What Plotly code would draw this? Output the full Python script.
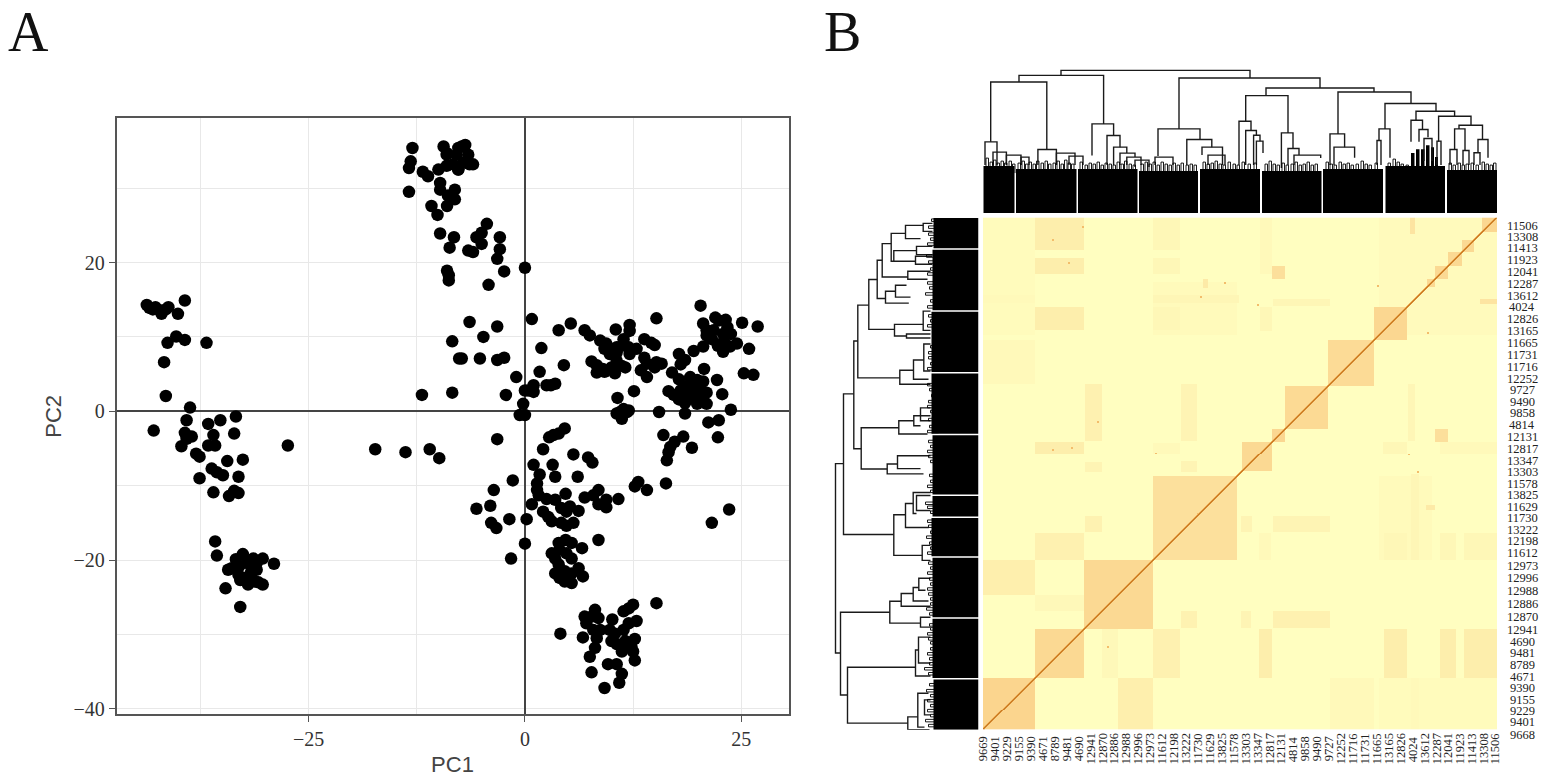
import numpy as np
import plotly.graph_objects as go

W, H = 1549, 782

# panel A, points
pc1 = [
    -43.7, -43.4, -43.0, -42.7, -42.2, -42.0, -41.5, -41.2, -39.3, -40.1, -41.3, -40.3, -39.3, -36.8, -41.7, -41.5, -38.7,
    -42.9, -39.1, -39.3, -38.5, -39.7, -39.1, -36.6, -35.2, -33.4, -36.0, -33.6, -36.6, -35.8, -38.0, -37.6, -34.4, -32.6,
    -36.2, -35.6, -34.9, -37.6, -33.1, -36.0, -34.2, -33.6, -33.1, -27.4, -17.3, -13.8, -11.0, -9.9,
    -35.8, -35.6, -32.6, -33.4, -31.4, -30.3, -29.0, -34.3, -33.9, -33.0, -32.1, -31.0, -31.6, -31.0, -33.1, -32.6, -31.8,
    -32.0, -32.9, -31.2, -30.3, -30.8, -34.6, -32.9,
    -13.0, -13.2, -13.4, -13.4, -11.8, -11.2, -10.0, -9.4, -9.05, -9.05, -8.3, -7.7, -7.7, -9.8, -9.8, -8.1, -8.9, -8.1,
    -9.0, -10.8, -10.1, -9.8, -8.2, -8.7, -9.0, -8.8, -8.8, -8.4, -7.6, -11.9, -8.4,
    -7.3, -6.9, -7.9, -6.55, -6.4, -6.0, -9.0, -7.7, -7.1,
    -4.4, -5.0, -5.6, -5.0, -2.9, -2.9, -3.2, -6.55, -6.0, -2.4, -4.2, 0.0, -6.4, -3.2, -4.8, -7.3, -5.2, -3.2, -2.4, -1.0,
    -2.2, 0.8, 1.9, 4.5, 1.7, 3.9, 5.3, 0.4, 1.0, 0.0, 1.0, -0.2, -0.6, 0.0, 2.5, 3.5, 3.0,
    6.9, 7.5, 10.5, 12.1, 12.1, 15.2, 13.8, 14.6, 15.0, 8.7, 9.4, 10.0, 10.6, 11.4, 11.2, 12.0, 12.9, 12.1, 10.6, 9.8, 9.2,
    7.7, 8.3, 9.0, 8.3, 9.2, 10.0, 10.4, 11.2, 11.6, 10.6, 13.8, 13.4, 14.1, 14.1, 15.2, 15.8, 15.0,
    20.3, 22.0, 23.2, 25.1, 26.9, 20.6, 21.0, 21.6, 21.0, 22.4, 23.4, 23.8, 24.5, 23.7, 22.9, 22.3, 23.0, 22.9, 21.8,
    20.6, 19.5, 25.9, 25.3, 26.4,
    17.8, 18.5, 18.0, 17.0, 17.8, 20.7, 22.2, 22.8, 23.8, 16.6, 17.2, 17.8, 18.5, 18.5, 19.1, 19.9, 20.6, 18.7, 19.3, 20.2,
    18.5, 19.5, 20.4, 21.0, 19.9, 18.9, 18.0, 20.5, 21.0, 15.5, 21.2, 22.4, 10.7, 12.6, 11.0, 11.8, 10.6, 11.2, 11.4, 12.0,
    -3.2, 4.6, 3.9, 3.3, 2.8, 2.1, 5.6, 7.3, 7.8, 1.0, 3.2, 1.7, 3.5, 6.1, -1.4, 1.4, -3.6, 1.4, 1.6, 4.7, 2.5, 3.5, 0.8,
    -4.0, -5.6, 6.9, 8.5, 7.9, 8.5, 9.4, 9.4, 10.8, 13.1, 12.7, 14.1, 16.3, 16.0, 18.3, 17.3, 16.8, 16.6, 16.4, 19.3, 22.3,
    21.6, 23.6, 0.2, -1.8, -3.9, -3.3, 0.0, -1.6, 8.5, 2.1, 2.7, 3.1, 4.2, 5.2, 6.2, 4.8, 4.2, 4.8, 5.6,
    4.7, 3.9, 5.4, 6.6, 3.1, 4.0, 4.8, 3.5, 5.4, 3.9, 6.2, 3.5, 4.6, 5.4, 6.7, 4.0, 4.6, 5.4,
    15.2, 12.5, 11.4, 12.0, 8.1, 6.9, 7.7, 8.5, 7.1, 10.1, 12.9, 12.0, 11.4, 7.9, 8.7, 9.8, 10.4, 4.1, 6.7, 12.7, 8.3, 10.0,
    11.6, 10.6, 12.3, 8.1, 11.2, 12.5, 7.5, 12.7, 9.6, 10.6, 7.7, 11.2, 10.9, 9.2,
]
pc2 = [
    14.3, 13.9, 13.7, 14.0, 13.6, 13.1, 13.7, 14.0, 14.9, 13.1, 9.2, 10.05, 9.6, 9.2, 6.6, 2.05, 0.5,
    -2.6, -1.2, -2.9, -3.4, -4.7, -3.7, -1.7, -1.2, -0.7, -3.2, -3.0, -4.6, -4.6, -5.7, -6.1, -6.7, -6.5,
    -7.7, -8.2, -8.6, -9.0, -8.8, -10.9, -11.4, -10.7, -11.0, -4.6, -5.1, -5.5, -5.1, -6.3,
    -17.5, -19.4, -19.2, -19.9, -19.8, -19.8, -20.5, -21.3, -21.1, -20.8, -20.4, -20.4, -21.5, -21.3, -22.0, -22.4, -22.0,
    -23.3, -22.7, -22.9, -23.3, -23.0, -23.8, -26.3,
    35.4, 33.6, 32.7, 29.5, 32.2, 31.6, 32.5, 35.6, 34.5, 33.0, 33.2, 35.4, 32.5, 30.7, 29.8, 29.8, 29.0, 28.5,
    27.6, 27.6, 26.4, 23.9, 23.4, 22.0, 18.9, 18.3, 17.6, 9.4, 7.1, 2.2, 2.5,
    35.6, 35.8, 34.5, 34.5, 33.2, 33.2, 34.7, 32.5, 33.4,
    25.2, 24.0, 23.4, 22.5, 23.4, 21.8, 20.5, 21.6, 21.4, 18.8, 17.0, 19.3, 12.0, 11.4, 10.0, 7.1, 7.1, 6.9, 7.2, 4.6,
    2.2, 12.4, 8.5, 6.2, 5.3, 10.9, 11.8, 2.8, 3.5, 2.8, 2.6, 1.0, -0.5, -0.5, 3.5, 3.7, 3.5,
    10.9, 10.2, 11.0, 11.6, 10.8, 12.5, 9.7, 9.2, 8.9, 9.5, 9.1, 8.4, 8.6, 9.7, 8.8, 8.6, 8.4, 7.7, 7.9, 7.7, 8.4,
    6.7, 6.2, 5.7, 5.2, 5.3, 5.9, 5.1, 6.1, 5.9, 6.8, 7.2, 5.5, 4.6, 6.4, 6.6, 6.4, 5.9,
    14.2, 12.6, 12.3, 11.9, 11.4, 11.8, 10.9, 9.7, 10.2, 12.2, 11.3, 10.4, 9.1, 8.7, 8.0, 8.8, 9.5, 10.4, 10.9,
    8.7, 8.1, 8.4, 5.1, 4.9,
    7.7, 6.9, 6.3, 5.2, 4.3, 5.7, 4.2, 2.3, 0.2, 2.7, 2.2, 1.6, 1.1, -0.3, 4.6, 4.2, 4.0, 3.4, 3.4, 3.2,
    2.4, 2.0, 2.2, 1.0, 1.0, 1.7, 2.8, 1.4, 2.5, -0.1, -1.5, -1.2, 1.8, 2.7, -0.1, -0.1, -0.3, -1.0, 0.3, 0.1,
    -3.75, -2.3, -3.0, -3.2, -3.5, -5.1, -5.8, -6.2, -6.9, -7.2, -7.2, -8.5, -8.8, -8.8, -9.3, -9.7, -10.6, -10.6, -11.3, -11.1, -11.8, -11.9, -12.5,
    -12.7, -13.1, -11.6, -10.6, -11.3, -12.5, -12.9, -11.9, -11.8, -9.5, -10.1, -10.6, -9.7, -3.2, -3.4, -4.1, -4.8, -5.5, -6.6, -4.9, -3.5,
    -15.0, -13.2, -14.5, -14.5, -15.0, -15.7, -17.8, -19.8, -17.3, -13.5, -14.2, -14.8, -13.0, -12.8, -13.4, -13.5, -15.0, -15.4, -15.0,
    -17.3, -17.7, -17.7, -18.4, -19.1, -18.6, -19.1, -19.8, -19.8, -20.6, -21.1, -21.8, -21.5, -21.8, -22.2, -22.4, -22.9, -23.1,
    -25.8, -26.0, -26.9, -26.5, -26.7, -27.6, -27.6, -27.8, -28.5, -28.0, -28.2, -28.5, -29.4, -29.4, -29.4, -29.4, -29.9, -29.9, -30.4, -30.6, -30.5, -30.9,
    -30.9, -31.3, -31.6, -31.8, -32.3, -32.3, -33.0, -33.5, -34.0, -34.0, -35.1, -35.3, -36.5, -37.2,
]
pc1_ticks = [-25, 0, 25]
pc1_ticktext = ["\u221225", "0", "25"]
pc1_minor = [-37.5, -12.5, 12.5]
pc2_ticks = [-40, -20, 0, 20]
pc2_ticktext = ["\u221240", "\u221220", "0", "20"]
pc2_minor = [-30, -10, 10, 30]

# panel B, sample labels
row_labels = [
    "11506", "13308", "11413", "11923", "12041", "12287", "13612", "4024", "12826", "13165", "11665", "11731",
    "11716", "12252", "9727", "9490", "9858", "4814", "12131", "12817", "13347", "13303", "11578", "13825",
    "11629", "11730", "13222", "12198", "11612", "12973", "12996", "12988", "12886", "12870", "12941", "4690",
    "9481", "8789", "4671", "9390", "9155", "9229", "9401", "9668",
]
row_label_rank = [
    505, 494, 483, 471, 459, 447, 435, 424, 412, 400, 388, 376, 364, 352, 341, 329, 318, 306, 294, 282, 270, 259,
    247, 236, 224, 212, 200, 189, 177, 164, 152, 139, 126, 113, 100, 88, 77, 65, 53, 42, 30, 19, 8, -5,
]
col_labels = [
    "9669", "9401", "9229", "9155", "9390", "4671", "8789", "9481", "4690", "12941", "12870", "12886", "12988",
    "12996", "12973", "11612", "12198", "13222", "11730", "11629", "13825", "11578", "13303", "13347", "12817",
    "12131", "4814", "9858", "9490", "9727", "12252", "11716", "11731", "11665", "13165", "12826", "4024",
    "13612", "12287", "12041", "11923", "11413", "13308", "11506",
]
col_label_rank = [
    0, 12, 24, 36, 48, 60, 72, 84, 96, 108, 120, 131, 143, 155, 167, 179, 191, 203, 215, 227, 239, 251,
    263, 275, 287, 298, 310, 322, 334, 346, 358, 370, 382, 394, 406, 418, 430, 442, 454, 465, 477, 489, 501, 512,
]

n_samples = 514

# clusters along the diagonal (first rank, last rank, shade)
diag_blocks = [
    (0, 52, 0.40), (52, 101, 0.36), (101, 170, 0.36), (170, 254, 0.29), (259, 289, 0.36), (289, 302, 0.38),
    (302, 345, 0.35), (345, 391, 0.34), (391, 424, 0.38), (444, 452, 0.36), (452, 465, 0.36), (465, 479, 0.36),
    (479, 491, 0.36), (499, 514, 0.38),
]
# paired clusters away from the diagonal (rank a, rank a end, rank b, rank b end, shade)
cross_blocks = [
    (396, 514, 396, 514, 0.035), (170, 254, 396, 449, 0.04), (0, 52, 347, 391, 0.05), (0, 52, 470, 495, 0.04),
    (0, 52, 396, 514, 0.03), (0, 52, 428, 436, 0.05), (170, 256, 428, 436, 0.08), (170, 197, 276, 288, 0.05),
    (277, 289, 400, 424, 0.07), (277, 289, 457, 514, 0.05), (52, 101, 119, 135, 0.06), (52, 101, 170, 197, 0.13),
    (52, 101, 276, 289, 0.16), (52, 101, 401, 424, 0.16), (52, 101, 457, 473, 0.16), (52, 101, 481, 514, 0.16),
    (0, 52, 135, 170, 0.15), (102, 119, 198, 214, 0.12), (102, 119, 290, 347, 0.13), (102, 119, 258, 268, 0.1),
    (198, 214, 290, 347, 0.1), (198, 214, 258, 269, 0.1), (170, 197, 401, 424, 0.07), (170, 197, 457, 473, 0.07),
    (170, 197, 481, 514, 0.07), (290, 347, 425, 432, 0.08), (289, 302, 452, 465, 0.3), (220, 225, 443, 452, 0.2),
    (427, 432, 497, 514, 0.25), (170, 254, 250, 254, 0.36),
]
speck_x = [124, 69, 99, 85, 88, 69, 217, 274, 394, 434, 172, 425, 444, 114, 214, 241]
speck_y = [82, 490, 503, 467, 282, 280, 433, 425, 444, 257, 276, 275, 397, 308, 215, 447]

# top dendrogram: left x, right x, join height, left child height, right child height
top_merges = [
    (78, 267, 143, 138, 135.3), (36, 120.6, 138, 131.3, 89.3), (7.7, 63.8, 131.3, 71.3, 63.7), (2, 14, 71.3, 48, 48),
    (10, 23.4, 61, 48, 48), (23.4, 38, 58, 48, 48), (38, 46, 56, 48, 48), (54.9, 73.4, 63.7, 48, 48),
    (73.4, 92, 60, 48, 48), (86, 100, 57, 48, 48), (109, 130.6, 89.3, 57.7, 77.7), (124, 137, 77.7, 48, 66),
    (130.6, 143.8, 66, 48, 60), (137, 152, 60, 48, 56), (143.8, 158, 56, 48, 48), (152, 166, 53, 46, 46),
    (196, 337, 135.3, 84.3, 125.3), (175, 217, 84.3, 57, 73.7), (203.8, 228.8, 73.7, 48, 66), (219, 239.5, 66, 58, 48),
    (225, 242, 58, 48, 48), (172, 190, 56, 48, 48), (283, 391, 125.3, 117.7, 121.3), (262.7, 305, 117.7, 92, 80.3),
    (256, 268, 92, 48, 82.7), (262.7, 273.4, 82.7, 48, 78), (270.6, 277, 78, 48, 72), (273.4, 280, 72, 48, 60),
    (298.4, 310, 80.3, 45, 64.7), (305, 316, 64.7, 48, 58), (311, 337.7, 58, 48, 55), (355, 428, 121.3, 79.3, 109.7),
    (347, 361.6, 79.3, 48, 66), (351, 371.6, 66, 48, 55.3), (402, 453, 109.7, 84.3, 102), (396, 407, 84.3, 72.7, 55.3),
    (394, 398, 72.7, 48, 48), (433, 471.6, 102, 93, 97), (428, 439.5, 93, 71.3, 83.7), (436, 445, 83.7, 71.3, 76),
    (441, 449, 74.7, 52, 52), (455.6, 488, 97, 71.3, 88), (476, 499.5, 88, 84.3, 73.7), (471.6, 482, 84.3, 63.7, 62.7),
    (495, 505, 73.7, 60, 55.3), (467, 474, 63.7, 48, 48), (480, 486, 62.7, 48, 48), (491, 497, 60.3, 48, 48),
    (454, 458, 72, 48, 48),
]
top_leaves = [
    (3, 5.5, 55), (7, 9.5, 51), (10.5, 13, 53), (14, 16.5, 50), (18, 20.5, 52), (21.5, 24, 50), (26, 28.5, 52), (29.5, 32, 49),
    (35, 37.5, 50), (39, 41.5, 52), (42.5, 45, 49), (46, 48.5, 51), (50, 52.5, 49), (53.5, 56, 52), (58, 60.5, 50), (62, 64.5, 52),
    (65.5, 68, 49), (70, 72.5, 50), (74, 76.5, 52), (78, 80.5, 49), (81.5, 84, 53), (85, 87.5, 50), (88.5, 91, 49), (97, 99.5, 51),
    (102, 104.5, 48), (106, 108.5, 50), (110, 112.5, 49), (114, 116.5, 51), (118, 120.5, 48), (122, 124.5, 50), (126, 128.5, 49),
    (130, 132.5, 48), (134, 136.5, 51), (138, 140.5, 49), (141.5, 144, 52), (146, 148.5, 49), (150, 152.5, 48), (158, 160.5, 49),
    (162, 164.5, 51), (166, 168.5, 49), (170, 172.5, 51), (174, 176.5, 48), (178, 180.5, 51), (182, 184.5, 49), (186, 188.5, 48),
    (190, 192.5, 50), (194, 196.5, 48), (198, 200.5, 50), (203, 205.5, 48), (207, 209.5, 49), (211, 213.5, 48), (220, 222.5, 51),
    (224, 226.5, 49), (228, 230.5, 50), (232, 234.5, 52), (236, 238.5, 49), (240, 242.5, 48), (245, 247.5, 51), (250, 252.5, 49),
    (254, 256.5, 48), (259, 261.5, 51), (265, 267.5, 49), (271, 273.5, 50), (282, 284.5, 49), (286, 288.5, 52), (290, 292.5, 49),
    (294, 296.5, 48), (299, 301.5, 50), (303, 305.5, 48), (308, 310.5, 49), (312, 314.5, 51), (316, 318.5, 48), (320, 322.5, 49),
    (324, 326.5, 51), (328, 330.5, 48), (332, 334.5, 49), (343, 345.5, 51), (347, 349.5, 49), (351, 353.5, 48), (356, 358.5, 51),
    (360, 362.5, 49), (364, 366.5, 50), (368, 370.5, 48), (373, 375.5, 49), (378, 380.5, 52), (382, 384.5, 49), (386, 388.5, 48),
    (392, 394.5, 50), (405, 407.5, 50), (410, 412.5, 54), (414, 416.5, 51), (418, 420.5, 49), (423, 425.5, 48), (466, 468.5, 50),
    (470, 472.5, 48), (475, 477.5, 50), (479, 481.5, 48), (483, 485.5, 49), (488, 490.5, 50), (493, 495.5, 48), (499, 501.5, 51),
    (503, 505.5, 49), (507, 509.5, 48), (510.5, 513, 50),
]
top_mass_left = [0.5, 33, 95, 156, 217, 279, 340, 402.5, 464]
top_mass_right = [31.5, 93.5, 154.5, 215, 277, 338.5, 400, 462, 514]
top_mass_height = [47, 44, 44, 42, 44, 42, 44, 47, 43]
top_spike_left = [428, 433, 438, 443, 448, 452]
top_spike_right = [431.5, 436.5, 441.5, 446.5, 451, 455]
top_spike_height = [60, 64, 64, 68, 66, 56]

# left dendrogram: low rank, high rank, join distance, low child, high child
left_merges = [
    (77, 267, 143, 138, 135), (196, 337, 135, 84.7, 124.7), (282, 390, 124.7, 117.3, 120.7), (353, 426, 120.7, 78.7, 109.7),
    (401.7, 451.7, 109.7, 84, 101.3), (432.7, 471, 101.3, 93, 96.3), (454.3, 487.7, 96.3, 70.7, 87.3),
    (470, 498, 87.3, 84.7, 73), (492.7, 506, 73, 58, 55.3), (500, 508, 55.3, 46, 46), (470, 480.7, 84.7, 63, 62),
    (476.7, 485, 62, 46, 46), (467, 475, 63, 46, 46), (452, 460, 70.7, 51, 48), (428, 440, 93, 69.7, 83),
    (434, 446, 83, 68, 72), (395, 406.7, 84, 72, 55.3), (400.7, 420, 55.3, 48, 48), (393, 397, 72, 48, 48),
    (346.7, 360.7, 78.7, 48, 65), (351.7, 371, 65, 50, 54.7), (360, 387, 54.7, 48, 48), (261.7, 303, 117.3, 91.3, 79.7),
    (296.7, 310, 79.7, 51, 64.7), (305, 315, 64.7, 58, 48), (310, 323, 58, 48, 48), (256.7, 266.7, 91.3, 55, 81),
    (262, 275, 81, 58, 48), (175, 215.7, 84.7, 56.3, 73), (203, 227, 73, 49.7, 65.3), (217, 238, 65.3, 62, 48),
    (220, 235, 62, 48, 48), (170, 185, 56.3, 48, 48), (35, 118, 138, 131, 88.7), (107, 129, 88.7, 58, 77.3),
    (124, 136.7, 77.3, 48, 65.3), (129.3, 142.7, 65.3, 50, 59.7), (140, 152, 59.7, 53, 48), (103, 113, 58, 48, 48),
    (6.7, 62.7, 131, 70.7, 63), (54, 80, 63, 48, 60), (67, 93, 60, 48, 48), (0, 13, 70.7, 49, 60.7), (2.7, 36.7, 60.7, 54, 50),
    (15, 30, 54, 48, 48),
]
left_leaves = [
    (3, 5.5, 50), (8, 10.5, 53), (13, 15.5, 48), (18, 20.5, 51), (23, 25.5, 48), (28, 30.5, 51), (33, 35.5, 48), (38, 40.5, 52),
    (44, 46.5, 49), (55, 57.5, 50), (60, 62.5, 54), (65, 67.5, 49), (70, 72.5, 49), (75, 77.5, 51), (80, 82.5, 48), (86, 88.5, 48),
    (90, 92.5, 50), (95, 97.5, 51), (100, 102.5, 48), (104, 106.5, 49), (115, 117.5, 49), (120, 122.5, 52), (125, 127.5, 48),
    (130, 132.5, 48), (135, 137.5, 50), (140, 142.5, 51), (145, 147.5, 48), (150, 152.5, 49), (156, 158.5, 51), (161, 163.5, 48),
    (166, 168.5, 50), (176, 178.5, 51), (181, 183.5, 48), (186, 188.5, 49), (192, 194.5, 52), (197, 199.5, 48), (203, 205.5, 50),
    (208, 210.5, 51), (217, 219.5, 48), (222, 224.5, 51), (226, 228.5, 53), (238, 240.5, 48), (243, 245.5, 51), (248, 250.5, 48),
    (254, 256.5, 49), (268, 270.5, 48), (273, 275.5, 50), (278, 280.5, 51), (283, 285.5, 48), (288, 290.5, 50), (298, 300.5, 51),
    (303, 305.5, 49), (310, 312.5, 50), (318, 320.5, 48), (323, 325.5, 51), (328, 330.5, 50), (334, 336.5, 47), (340, 342.5, 49),
    (345, 347.5, 51), (361, 363.5, 51), (366, 368.5, 48), (372, 374.5, 50), (377, 379.5, 50), (383, 385.5, 48), (404, 406.5, 51),
    (409, 411.5, 48), (414, 416.5, 50), (423, 425.5, 51), (429, 431.5, 48), (436, 438.5, 53), (442, 444.5, 49), (447, 449.5, 51),
    (456, 458.5, 51), (461, 463.5, 48), (468, 470.5, 50), (474, 476.5, 52), (486, 488.5, 51), (491, 493.5, 48), (496, 498.5, 50),
    (503, 505.5, 50), (510, 512.5, 47),
]
left_mass_low = [0, 52, 113, 174, 214, 236, 297, 359, 421, 483]
left_mass_high = [50.5, 111.5, 172.5, 212.5, 234.5, 295.5, 357.5, 419.5, 481.5, 513.5]
left_mass_depth = [45, 46, 46, 47, 46, 46, 47, 47, 46, 45]


def paths(rows):
    pos, height = [], []
    for p0, p1, h, h0, h1 in rows:
        pos += [p0, p0, p1, p1, None]
        height += [h0, h, h, h1, None]
    return pos, height


def xdom(a, b):
    return [a / W, b / W]


# the first render came out a little short, stretch page rows to line up with the reference
def row(p):
    return (p + 1.6) / 0.9967


def ydom(top, bottom):
    return [1 - row(bottom) / H, 1 - row(top) / H]


z = np.zeros((n_samples, n_samples))
for a0, a1, b0, b1, v in cross_blocks:
    z[a0:a1, b0:b1] = v
    z[b0:b1, a0:a1] = v
for a0, a1, v in diag_blocks:
    z[a0:a1, a0:a1] = v
for sx, sy in zip(speck_x, speck_y):
    z[sy:sy + 2, sx:sx + 2] = 0.55
idx = np.arange(n_samples)
z[idx, idx] = 1.0
z[idx[:-1], idx[1:]] = 0.85
z[idx[1:], idx[:-1]] = 0.6

fig = go.Figure()

fig.add_trace(go.Scatter(
    x=pc1, y=pc2, mode="markers", xaxis="x", yaxis="y",
    marker=dict(color="black", size=12.5, line=dict(width=0)),
))

centers = idx + 0.5
fig.add_trace(go.Heatmap(
    z=z, x=centers, y=centers, xaxis="x2", yaxis="y2", showscale=False, zmin=0, zmax=1,
    colorscale=[[0, "#FFFEC0"], [0.4, "#FBD58E"], [0.6, "#F0B560"], [1, "#C9781F"]],
))

# black leaf blocks first, branches on top
mass_l = np.array(top_mass_left + top_spike_left)
mass_r = np.array(top_mass_right + top_spike_right)
fig.add_trace(go.Bar(
    x=(mass_l + mass_r) / 2, width=mass_r - mass_l, y=top_mass_height + top_spike_height,
    xaxis="x3", yaxis="y3", marker=dict(color="black", line=dict(width=0)),
))
tx, th = paths(top_merges)
fig.add_trace(go.Scatter(
    x=tx, y=th, mode="lines", xaxis="x3", yaxis="y3", line=dict(color="#1a1a1a", width=1.4),
))
tx, th = paths([(a, b, h, 40, 40) for a, b, h in top_leaves])
fig.add_trace(go.Scatter(
    x=tx, y=th, mode="lines", xaxis="x3", yaxis="y3", line=dict(color="black", width=0.9),
))

low = np.array(left_mass_low)
high = np.array(left_mass_high)
fig.add_trace(go.Bar(
    y=(low + high) / 2, width=high - low, x=left_mass_depth, orientation="h",
    xaxis="x4", yaxis="y4", marker=dict(color="black", line=dict(width=0)),
))
lp, lh = paths(left_merges)
fig.add_trace(go.Scatter(
    x=lh, y=lp, mode="lines", xaxis="x4", yaxis="y4", line=dict(color="#1a1a1a", width=1.4),
))
lp, lh = paths([(a, b, h, 40, 40) for a, b, h in left_leaves])
fig.add_trace(go.Scatter(
    x=lh, y=lp, mode="lines", xaxis="x4", yaxis="y4", line=dict(color="black", width=0.9),
))

notes = [
    dict(text="A", x=6 / W, y=1 - 32 / H, xref="paper", yref="paper", xanchor="left", yanchor="middle",
         showarrow=False, font=dict(family="Liberation Serif", size=56, color="#111")),
    dict(text="B", x=822 / W, y=1 - 32 / H, xref="paper", yref="paper", xanchor="left", yanchor="middle",
         showarrow=False, font=dict(family="Liberation Serif", size=56, color="#111")),
]
for lab, r in zip(row_labels, row_label_rank):
    notes.append(dict(text=lab, x=1522 / W, y=1 - row(730.5 - r) / H, xref="paper", yref="paper",
                      xanchor="center", yanchor="middle", showarrow=False,
                      font=dict(family="Liberation Serif", size=12.5, color="#222")))
for lab, r in zip(col_labels, col_label_rank):
    notes.append(dict(text=lab, x=r, y=1 - row(750) / H, xref="x2", yref="paper", xanchor="center", yanchor="middle",
                      textangle=-90, showarrow=False, font=dict(family="Liberation Serif", size=12.5, color="#222")))

frame = dict(showline=True, linecolor="#555", linewidth=1.6, mirror=True, ticks="outside", ticklen=6,
             tickcolor="#555", tickwidth=1.4, showgrid=True, gridcolor="#e8e8e8", gridwidth=1,
             zeroline=True, zerolinecolor="#444", zerolinewidth=2.2,
             tickfont=dict(family="Liberation Serif", size=20, color="#333"),
             title_font=dict(family="Liberation Sans", size=22, color="#444"))
hidden = dict(visible=False, showgrid=False, zeroline=False)

fig.update_layout(
    width=W, height=H, margin=dict(l=0, r=0, t=0, b=0), paper_bgcolor="white", plot_bgcolor="white",
    showlegend=False, hovermode=False, barmode="overlay", annotations=notes,
    xaxis=dict(domain=xdom(116.5, 788.5), range=[-47.2, 30.46], tickvals=pc1_ticks, ticktext=pc1_ticktext,
               minor=dict(tickvals=pc1_minor, showgrid=True, gridcolor="#e8e8e8", ticks=""),
               title=dict(text="PC1", standoff=7), **frame),
    yaxis=dict(domain=ydom(117, 715), range=[-40.75, 39.4], tickvals=pc2_ticks, ticktext=pc2_ticktext,
               minor=dict(tickvals=pc2_minor, showgrid=True, gridcolor="#e8e8e8", ticks=""),
               title=dict(text="PC2", standoff=6), **frame),
    xaxis2=dict(domain=xdom(983, 1497), range=[0, n_samples], anchor="y2", **hidden),
    yaxis2=dict(domain=ydom(216.5, 730.5), range=[0, n_samples], anchor="x2", **hidden),
    xaxis3=dict(domain=xdom(983, 1497), range=[0, n_samples], anchor="y3", **hidden),
    yaxis3=dict(domain=ydom(65, 212), range=[0, 147], anchor="x3", **hidden),
    xaxis4=dict(domain=xdom(830, 978.5), range=[148.5, 0], anchor="y4", **hidden),
    yaxis4=dict(domain=ydom(216.5, 730.5), range=[0, n_samples], anchor="x4", **hidden),
)

fig.write_html("out.html", config=dict(displayModeBar=False),
               post_script="document.body.style.margin='0';document.body.style.overflow='hidden';")
